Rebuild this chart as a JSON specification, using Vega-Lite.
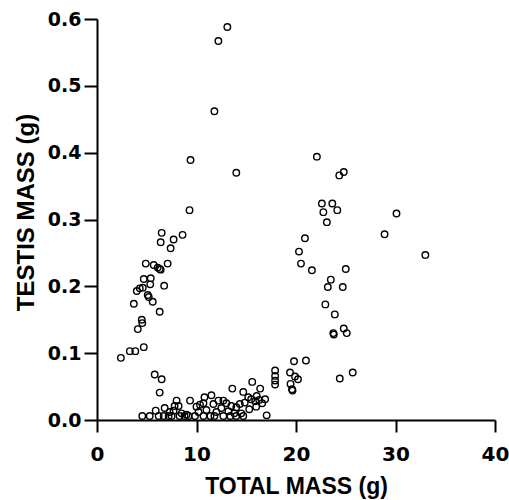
{
  "$schema": "https://vega.github.io/schema/vega-lite/v6.json",
  "width": 398,
  "height": 401,
  "padding": {"left": 97, "top": 19, "right": 14, "bottom": 80},
  "autosize": {"type": "none"},
  "background": "white",
  "config": {"view": {"stroke": null}},
  "data": {"values": [
    {"total": 2.4, "testis": 0.093}, {"total": 3.3, "testis": 0.103}, {"total": 3.85, "testis": 0.103}, {"total": 4.7, "testis": 0.109},
    {"total": 4.1, "testis": 0.136}, {"total": 4.5, "testis": 0.150}, {"total": 4.55, "testis": 0.145}, {"total": 6.3, "testis": 0.162},
    {"total": 3.7, "testis": 0.174}, {"total": 5.6, "testis": 0.177}, {"total": 5.1, "testis": 0.187}, {"total": 5.2, "testis": 0.184},
    {"total": 4.0, "testis": 0.193}, {"total": 4.3, "testis": 0.197}, {"total": 4.6, "testis": 0.198}, {"total": 5.35, "testis": 0.203},
    {"total": 6.75, "testis": 0.201}, {"total": 4.7, "testis": 0.211}, {"total": 5.4, "testis": 0.212}, {"total": 4.9, "testis": 0.234},
    {"total": 5.7, "testis": 0.232}, {"total": 6.1, "testis": 0.228}, {"total": 6.4, "testis": 0.225}, {"total": 6.3, "testis": 0.226},
    {"total": 7.1, "testis": 0.234}, {"total": 7.4, "testis": 0.257}, {"total": 6.4, "testis": 0.266}, {"total": 7.7, "testis": 0.270},
    {"total": 6.5, "testis": 0.280}, {"total": 8.6, "testis": 0.277}, {"total": 9.3, "testis": 0.314}, {"total": 9.4, "testis": 0.389},
    {"total": 11.8, "testis": 0.462}, {"total": 12.2, "testis": 0.567}, {"total": 13.1, "testis": 0.588}, {"total": 14.0, "testis": 0.370},
    {"total": 5.8, "testis": 0.068}, {"total": 6.5, "testis": 0.061}, {"total": 6.3, "testis": 0.041},
    {"total": 22.1, "testis": 0.394}, {"total": 24.35, "testis": 0.366}, {"total": 24.8, "testis": 0.371}, {"total": 22.6, "testis": 0.324},
    {"total": 23.65, "testis": 0.324}, {"total": 22.75, "testis": 0.311}, {"total": 24.15, "testis": 0.314}, {"total": 23.1, "testis": 0.296},
    {"total": 20.9, "testis": 0.272}, {"total": 20.3, "testis": 0.252}, {"total": 20.5, "testis": 0.234}, {"total": 21.6, "testis": 0.224},
    {"total": 25.0, "testis": 0.226}, {"total": 23.5, "testis": 0.210}, {"total": 23.2, "testis": 0.199}, {"total": 24.7, "testis": 0.199},
    {"total": 22.95, "testis": 0.173}, {"total": 23.9, "testis": 0.158}, {"total": 23.75, "testis": 0.130}, {"total": 23.8, "testis": 0.128},
    {"total": 24.8, "testis": 0.137}, {"total": 25.1, "testis": 0.130}, {"total": 30.1, "testis": 0.309}, {"total": 28.9, "testis": 0.278},
    {"total": 33.0, "testis": 0.247}, {"total": 24.4, "testis": 0.062}, {"total": 25.7, "testis": 0.071},
    {"total": 17.9, "testis": 0.074}, {"total": 17.9, "testis": 0.066}, {"total": 17.9, "testis": 0.059}, {"total": 17.9, "testis": 0.053},
    {"total": 19.8, "testis": 0.088}, {"total": 21.0, "testis": 0.089}, {"total": 19.4, "testis": 0.071}, {"total": 19.9, "testis": 0.065},
    {"total": 20.2, "testis": 0.061}, {"total": 19.45, "testis": 0.054}, {"total": 19.6, "testis": 0.046}, {"total": 19.65, "testis": 0.044},
    {"total": 13.6, "testis": 0.047}, {"total": 15.6, "testis": 0.057}, {"total": 14.7, "testis": 0.042}, {"total": 16.4, "testis": 0.047},
    {"total": 16.9, "testis": 0.031}, {"total": 17.05, "testis": 0.007}, {"total": 9.35, "testis": 0.029}, {"total": 10.8, "testis": 0.034},
    {"total": 11.5, "testis": 0.037}, {"total": 12.7, "testis": 0.029}, {"total": 15.2, "testis": 0.034}, {"total": 16.05, "testis": 0.036},
    {"total": 10.0, "testis": 0.020}, {"total": 10.35, "testis": 0.023}, {"total": 10.7, "testis": 0.025}, {"total": 11.7, "testis": 0.024},
    {"total": 12.2, "testis": 0.029}, {"total": 13.0, "testis": 0.025}, {"total": 13.5, "testis": 0.021}, {"total": 14.0, "testis": 0.019},
    {"total": 14.35, "testis": 0.024}, {"total": 14.85, "testis": 0.026}, {"total": 15.5, "testis": 0.031}, {"total": 15.9, "testis": 0.028},
    {"total": 16.3, "testis": 0.030},
    {"total": 4.55, "testis": 0.006}, {"total": 5.3, "testis": 0.006}, {"total": 5.9, "testis": 0.014}, {"total": 6.2, "testis": 0.006},
    {"total": 6.7, "testis": 0.006}, {"total": 7.2, "testis": 0.006}, {"total": 7.5, "testis": 0.006}, {"total": 8.3, "testis": 0.006},
    {"total": 8.8, "testis": 0.006}, {"total": 9.2, "testis": 0.006}, {"total": 9.85, "testis": 0.006}, {"total": 10.7, "testis": 0.006},
    {"total": 11.4, "testis": 0.006}, {"total": 12.7, "testis": 0.006}, {"total": 13.4, "testis": 0.006}, {"total": 14.0, "testis": 0.006},
    {"total": 14.7, "testis": 0.006}, {"total": 11.8, "testis": 0.006},
    {"total": 6.8, "testis": 0.018}, {"total": 8.0, "testis": 0.029}, {"total": 7.8, "testis": 0.021}, {"total": 8.2, "testis": 0.021},
    {"total": 7.7, "testis": 0.014}, {"total": 7.3, "testis": 0.012}, {"total": 8.5, "testis": 0.010}, {"total": 9.0, "testis": 0.008},
    {"total": 10.2, "testis": 0.012}, {"total": 11.0, "testis": 0.015}, {"total": 12.0, "testis": 0.012}, {"total": 12.5, "testis": 0.018},
    {"total": 13.2, "testis": 0.013}, {"total": 14.5, "testis": 0.010}, {"total": 15.3, "testis": 0.016}, {"total": 16.0, "testis": 0.020},
    {"total": 16.6, "testis": 0.025}, {"total": 13.8, "testis": 0.010}
  ]},
  "mark": {"type": "point", "shape": "circle", "filled": false, "size": 42, "strokeWidth": 1.4, "color": "black", "opacity": 1},
  "encoding": {
    "x": {
      "field": "total", "type": "quantitative",
      "scale": {"domain": [0, 40], "nice": false, "zero": false},
      "axis": {
        "values": [0, 10, 20, 30, 40], "grid": false, "title": "TOTAL MASS (g)",
        "domainColor": "black", "domainWidth": 2, "tickColor": "black", "tickWidth": 2, "tickSize": 12,
        "labelFont": "DejaVu Sans", "labelFontWeight": "bold", "labelFontSize": 20, "labelColor": "black", "labelPadding": 12,
        "labelFlush": false,
        "titleFont": "Liberation Sans", "titleFontWeight": "bold", "titleFontSize": 23, "titleColor": "black",
        "titleX": 199, "titleY": 73, "titleBaseline": "alphabetic", "titleAlign": "center"
      }
    },
    "y": {
      "field": "testis", "type": "quantitative",
      "scale": {"domain": [0, 0.6], "nice": false, "zero": false},
      "axis": {
        "values": [0, 0.1, 0.2, 0.3, 0.4, 0.5, 0.6], "format": ".1f", "grid": false, "title": "TESTIS MASS (g)",
        "domainColor": "black", "domainWidth": 2, "tickColor": "black", "tickWidth": 2, "tickSize": 13,
        "labelFont": "DejaVu Sans", "labelFontWeight": "bold", "labelFontSize": 19, "labelColor": "black", "labelPadding": 3,
        "labelFlush": false,
        "titleFont": "Liberation Sans", "titleFontWeight": "bold", "titleFontSize": 24, "titleColor": "black",
        "titleX": -64, "titleY": 193, "titleAngle": -90, "titleBaseline": "alphabetic", "titleAlign": "center"
      }
    }
  }
}
